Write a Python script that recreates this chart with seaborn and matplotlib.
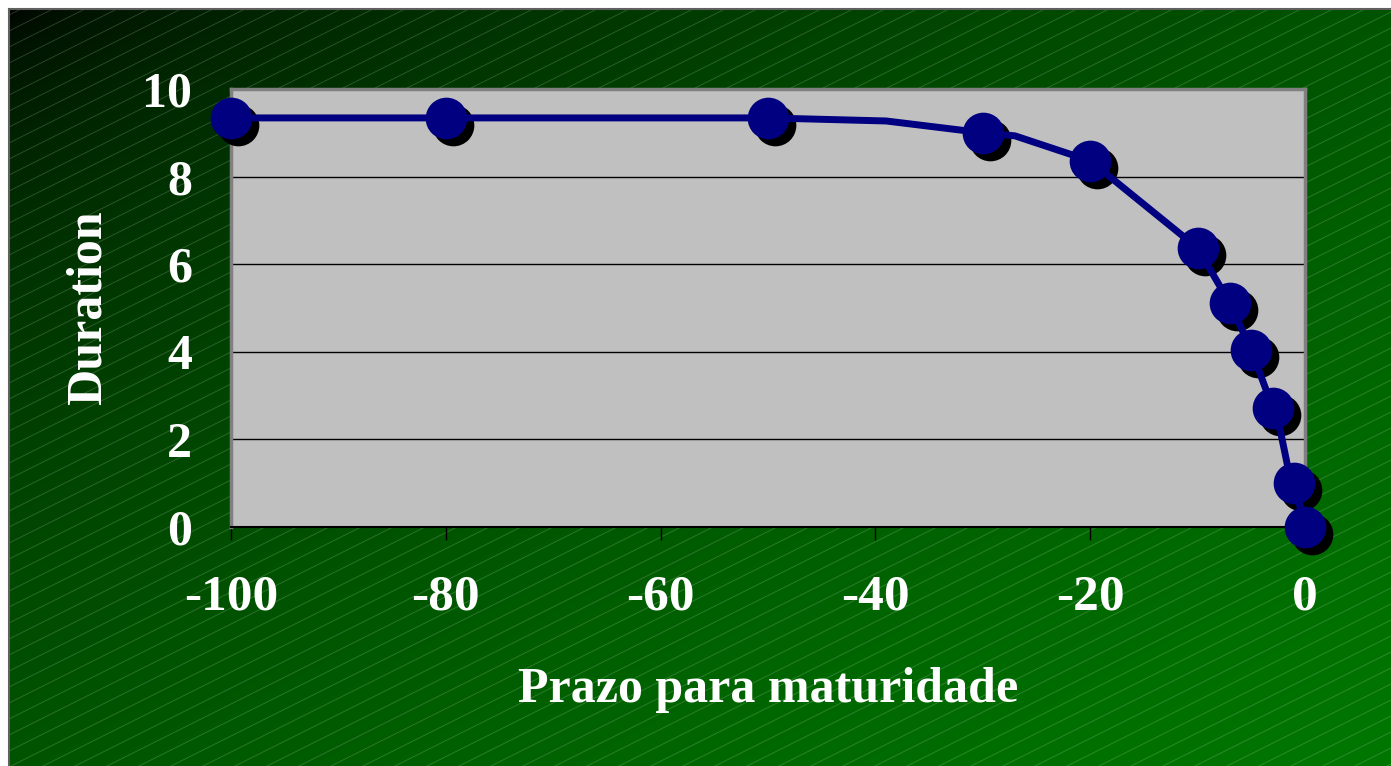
import numpy as np
import matplotlib
matplotlib.use("Agg")
import matplotlib.pyplot as plt
import matplotlib.transforms as mtransforms
import seaborn as sns

# marked points (maturity vs duration)
mark_x = [-100, -80, -50, -30, -20, -10, -7, -5, -3, -1, 0]
mark_y = [9.34, 9.34, 9.34, 9.0, 8.36, 6.37, 5.11, 4.04, 2.72, 1.0, 0.0]

# line path (includes unmarked kinks)
line_x = [-100, -80, -50, -39, -30, -27, -20, -10, -7, -5, -3, -2.3, -1.6, -1, 0]
line_y = [9.34, 9.34, 9.34, 9.27, 9.0, 8.93, 8.36, 6.37, 5.11, 4.04, 2.72, 2.2, 1.37, 1.0, 0.0]

x_ticks = [-100, -80, -60, -40, -20, 0]
y_ticks = [0, 2, 4, 6, 8, 10]

sns.set_style("white")
plt.rcParams["font.family"] = ["Liberation Serif", "DejaVu Serif"]
plt.rcParams["font.weight"] = "bold"
plt.rcParams["axes.unicode_minus"] = False

W, H = 1391, 766
fig = plt.figure(figsize=(W / 100, H / 100), dpi=100)
fig.patch.set_facecolor("white")

# --- background: diagonal dark-to-green gradient with thin hatch lines ---
bx0, by0 = 9, 9
bg = fig.add_axes([bx0 / W, 0, 1 - bx0 / W, 1 - by0 / H])
gw, gh = W - bx0, H - by0
xx, yy = np.meshgrid(np.linspace(0, 1, 400), np.linspace(0, 1, 240))
t = np.sqrt((xx + yy) / 2)
img = np.zeros((240, 400, 3))
img[..., 1] = 0.467 * t
bg.imshow(img, extent=[0, gw, gh, 0], aspect="auto", interpolation="bilinear")
for c in np.arange(-10, gh + gw * 0.5 + 16, 16):
    bg.plot([0, gw], [c, c - 0.5 * gw], color="white", alpha=0.2, lw=0.6)
bg.set_xlim(0, gw)
bg.set_ylim(gh, 0)
bg.set_xticks([])
bg.set_yticks([])
for side in ["right", "bottom"]:
    bg.spines[side].set_visible(False)
for side in ["left", "top"]:
    bg.spines[side].set_color("#606060")
    bg.spines[side].set_linewidth(1.5)

# --- plot area ---
px0, px1, py0, py1 = 231, 1305, 89, 527
ax = fig.add_axes([px0 / W, (H - py1) / H, (px1 - px0) / W, (py1 - py0) / H])
ax.set_facecolor("#C0C0C0")

for yv in y_ticks[1:-1]:
    ax.axhline(yv, color="black", lw=1.0, zorder=1)

shadow = mtransforms.offset_copy(ax.transData, fig=fig, x=5, y=-5, units="points")
sns.scatterplot(x=mark_x, y=mark_y, ax=ax, color="black", s=900, linewidth=0,
                transform=shadow, clip_on=False, zorder=3)
sns.lineplot(x=line_x, y=line_y, ax=ax, color="#000080", lw=5, sort=False,
             estimator=None, clip_on=False, zorder=4)
sns.scatterplot(x=mark_x, y=mark_y, ax=ax, color="#000080", s=900, linewidth=0,
                clip_on=False, zorder=5)

ax.set_xlim(-100, 0)
ax.set_ylim(0, 10)
ax.set_xticks(x_ticks)
ax.set_yticks(y_ticks)
ax.set_xticklabels([str(v) for v in x_ticks])
ax.set_yticklabels([str(v) for v in y_ticks])
ax.tick_params(axis="x", direction="out", length=9, width=1, color="black",
               pad=25, labelsize=37, labelcolor="white", bottom=True)
ax.tick_params(axis="y", length=0, pad=28, labelsize=36, labelcolor="white")

for side in ["left", "top", "right"]:
    ax.spines[side].set_color("#808080")
    ax.spines[side].set_linewidth(2.5)
ax.spines["bottom"].set_color("black")
ax.spines["bottom"].set_linewidth(1.5)

ax.set_xlabel("Prazo para maturidade", fontsize=36, fontweight="bold",
              color="white", labelpad=34)
ax.set_ylabel("Duration", fontsize=36, fontweight="bold", color="white",
              labelpad=22)

fig.savefig("out.png", dpi=100, facecolor=fig.get_facecolor())
